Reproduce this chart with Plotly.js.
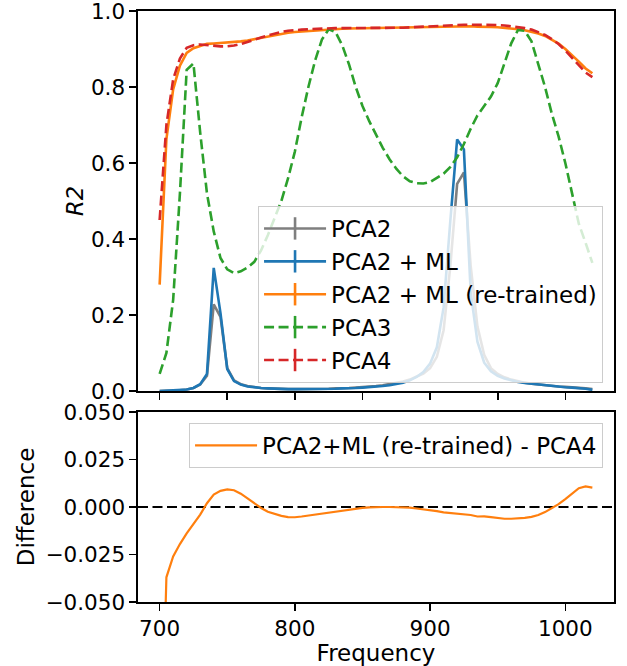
<!DOCTYPE html>
<html>
<head>
<meta charset="utf-8">
<script src="https://cdn.plot.ly/plotly-3.0.1.min.js"></script>
<style>body{margin:0;padding:0;background:#fff;} #chart{width:627px;height:666px;}</style>
</head>
<body>
<div id="chart"></div>
<script>
const freq = [700,705,710,715,720,725,730,735,740,745,750,755,760,765,770,775,780,785,790,795,
  800,805,810,815,820,825,830,835,840,845,850,855,860,865,870,875,880,885,890,895,
  900,905,910,915,920,925,930,935,940,945,950,955,960,965,970,975,980,985,990,995,
  1000,1005,1010,1015,1020];

const pca2 = [0.000,0.000,0.001,0.002,0.004,0.008,0.017,0.040,0.228,0.195,0.060,0.028,0.018,0.013,0.010,0.008,0.007,0.006,0.006,0.005,
  0.005,0.005,0.005,0.005,0.006,0.006,0.007,0.007,0.008,0.009,0.010,0.011,0.013,0.015,0.018,0.021,0.025,0.030,0.037,0.046,
  0.060,0.090,0.160,0.330,0.545,0.575,0.330,0.170,0.095,0.060,0.045,0.036,0.030,0.025,0.022,0.019,0.017,0.015,0.013,0.012,
  0.011,0.010,0.009,0.007,0.005];

const pca2ml = [0.000,0.001,0.001,0.002,0.004,0.008,0.018,0.045,0.324,0.205,0.058,0.026,0.017,0.012,0.009,0.008,0.007,0.006,0.006,0.005,
  0.005,0.005,0.005,0.005,0.005,0.006,0.006,0.007,0.007,0.008,0.009,0.010,0.011,0.013,0.015,0.018,0.022,0.028,0.037,0.050,
  0.072,0.115,0.220,0.450,0.662,0.636,0.260,0.130,0.075,0.052,0.040,0.033,0.028,0.024,0.021,0.019,0.017,0.015,0.013,0.011,
  0.010,0.009,0.008,0.006,0.003];

const pca2mlRetrained = [0.280,0.663,0.794,0.856,0.890,0.902,0.908,0.9135,0.9145,0.9155,0.9163,0.9178,0.920,0.9225,0.9258,0.9295,0.9335,0.9372,0.9403,0.9427,
  0.9446,0.946,0.9475,0.949,0.9505,0.952,0.9525,0.9532,0.9538,0.9542,0.9545,0.9548,0.955,0.955,0.955,0.956,0.956,0.9567,0.9572,0.9578,
  0.9583,0.9588,0.9592,0.9598,0.9594,0.960,0.9598,0.959,0.9591,0.9577,0.9571,0.9558,0.9538,0.952,0.9493,0.9458,0.9408,0.9343,0.9253,0.9145,
  0.9002,0.8842,0.8669,0.8488,0.8362];

const pca3 = [0.045,0.100,0.240,0.520,0.845,0.862,0.680,0.520,0.420,0.350,0.320,0.310,0.315,0.325,0.340,0.370,0.410,0.455,0.500,0.560,
  0.630,0.720,0.800,0.870,0.925,0.952,0.945,0.910,0.860,0.800,0.750,0.710,0.675,0.640,0.610,0.585,0.565,0.552,0.547,0.546,
  0.550,0.560,0.572,0.590,0.615,0.650,0.690,0.725,0.750,0.775,0.810,0.860,0.915,0.950,0.948,0.920,0.860,0.800,0.730,0.670,
  0.600,0.520,0.440,0.390,0.337];

const pca4 = [0.450,0.700,0.820,0.875,0.903,0.910,0.912,0.910,0.908,0.907,0.907,0.909,0.913,0.918,0.924,0.930,0.936,0.941,0.945,0.948,
  0.950,0.951,0.952,0.953,0.954,0.955,0.955,0.955,0.955,0.955,0.955,0.955,0.955,0.955,0.955,0.956,0.956,0.957,0.958,0.959,
  0.960,0.961,0.962,0.963,0.963,0.964,0.964,0.964,0.964,0.963,0.963,0.962,0.960,0.958,0.955,0.951,0.945,0.937,0.926,0.913,
  0.896,0.877,0.857,0.838,0.826];

const difference = [-0.170,-0.037,-0.026,-0.0195,-0.0139,-0.009,-0.004,0.002,0.0065,0.0085,0.0093,0.0088,0.007,0.0045,0.0018,-0.0005,-0.0025,-0.0038,-0.0047,-0.0053,
  -0.0054,-0.005,-0.0045,-0.004,-0.0035,-0.003,-0.0025,-0.0018,-0.0012,-0.0008,-0.0005,-0.0002,0.0,0.0,0.0,0.0,0.0,-0.0003,-0.0008,-0.0012,
  -0.0017,-0.0022,-0.0028,-0.0032,-0.0036,-0.004,-0.0042,-0.005,-0.0049,-0.0053,-0.0059,-0.0062,-0.0062,-0.006,-0.0057,-0.0052,-0.0042,-0.0027,-0.0007,0.0015,
  0.0042,0.0072,0.0099,0.0108,0.0102];

const r2Ticks = [0.0, 0.2, 0.4, 0.6, 0.8, 1.0];
const diffTicks = [-0.05, -0.025, 0.0, 0.025, 0.05];
const topFreqTicks = [700, 750, 800, 850, 900, 950, 1000];
const bottomFreqTicks = [700, 800, 900, 1000];

const names = ['PCA2','PCA2 + ML','PCA2 + ML (re-trained)','PCA3','PCA4'];
const diffName = 'PCA2+ML (re-trained) - PCA4';
const colors = ['#7f7f7f','#1f77b4','#ff7f0e','#2ca02c','#d62728'];
const dashes = ['solid','solid','solid','10px,4.5px','10px,4.5px'];
const series = [pca2, pca2ml, pca2mlRetrained, pca3, pca4];

const LW = 2.6;
const traces = [];
series.forEach((s, i) => {
  traces.push({
    x: freq, y: s, xaxis: 'x', yaxis: 'y', type: 'scatter', mode: 'lines',
    line: {color: colors[i], width: LW, dash: dashes[i]},
    name: names[i], legendgroup: 'g' + i, showlegend: false, hoverinfo: 'skip'
  });
});
series.forEach((s, i) => {
  traces.push({
    x: [null], y: [null], xaxis: 'x', yaxis: 'y', type: 'scatter', mode: 'lines+markers',
    line: {color: colors[i], width: LW, dash: dashes[i]},
    marker: {symbol: 'line-ns', size: 24, color: colors[i], line: {color: colors[i], width: LW}},
    name: names[i], legendgroup: 'g' + i, showlegend: true, legend: 'legend'
  });
});
traces.push({
  x: freq, y: difference, xaxis: 'x2', yaxis: 'y2', type: 'scatter', mode: 'lines',
  line: {color: '#ff7f0e', width: 2.2}, name: diffName, showlegend: true, legend: 'legend2'
});

const axisCommon = {
  showline: true, mirror: true, linecolor: '#000', linewidth: 1.6,
  ticks: 'outside', ticklen: 7, tickwidth: 1.6, tickcolor: '#000',
  showgrid: false, zeroline: false, tickfont: {size: 21.5}, ticklabeloverflow: 'allow'
};

const layout = {
  width: 627, height: 666,
  margin: {l: 138, r: 13, t: 11, b: 64},
  paper_bgcolor: '#fff', plot_bgcolor: '#fff',
  font: {family: 'DejaVu Sans', size: 21, color: '#000'},
  showlegend: true,
  xaxis: Object.assign({}, axisCommon, {domain: [0, 1], anchor: 'y', range: [684, 1036], tickmode: 'array', tickvals: topFreqTicks, showticklabels: false}),
  yaxis: Object.assign({}, axisCommon, {domain: [0.357, 1], anchor: 'x', range: [0, 1], tickmode: 'array', tickvals: r2Ticks, tickformat: '.1f',
    title: {text: '<i>R2</i>', font: {size: 22.5}, standoff: 1}}),
  xaxis2: Object.assign({}, axisCommon, {domain: [0, 1], anchor: 'y2', range: [684, 1036], tickmode: 'array', tickvals: bottomFreqTicks,
    title: {text: 'Frequency', font: {size: 23}, standoff: 0}}),
  yaxis2: Object.assign({}, axisCommon, {domain: [0, 0.3215], anchor: 'x2', range: [-0.05, 0.05], tickmode: 'array', tickvals: diffTicks, tickformat: '.3f',
    title: {text: 'Difference', font: {size: 23}, standoff: 4}}),
  legend: {x: 0.977, y: 0.3706, xanchor: 'right', yanchor: 'bottom', bgcolor: 'rgba(255,255,255,0.8)',
    bordercolor: '#cccccc', borderwidth: 1, font: {size: 23}, itemwidth: 62, traceorder: 'grouped', tracegroupgap: 0},
  legend2: {x: 0.977, y: 0.303, xanchor: 'right', yanchor: 'top', bgcolor: 'rgba(255,255,255,0.8)',
    bordercolor: '#cccccc', borderwidth: 1, font: {size: 23}, itemwidth: 62},
  shapes: [{type: 'line', xref: 'x2 domain', yref: 'y2', x0: 0, x1: 1, y0: 0, y1: 0,
    line: {color: '#000', width: 2.2, dash: '10px,4.5px'}, layer: 'below'}]
};

Plotly.newPlot('chart', traces, layout, {staticPlot: true, displayModeBar: false});
</script>
</body>
</html>
